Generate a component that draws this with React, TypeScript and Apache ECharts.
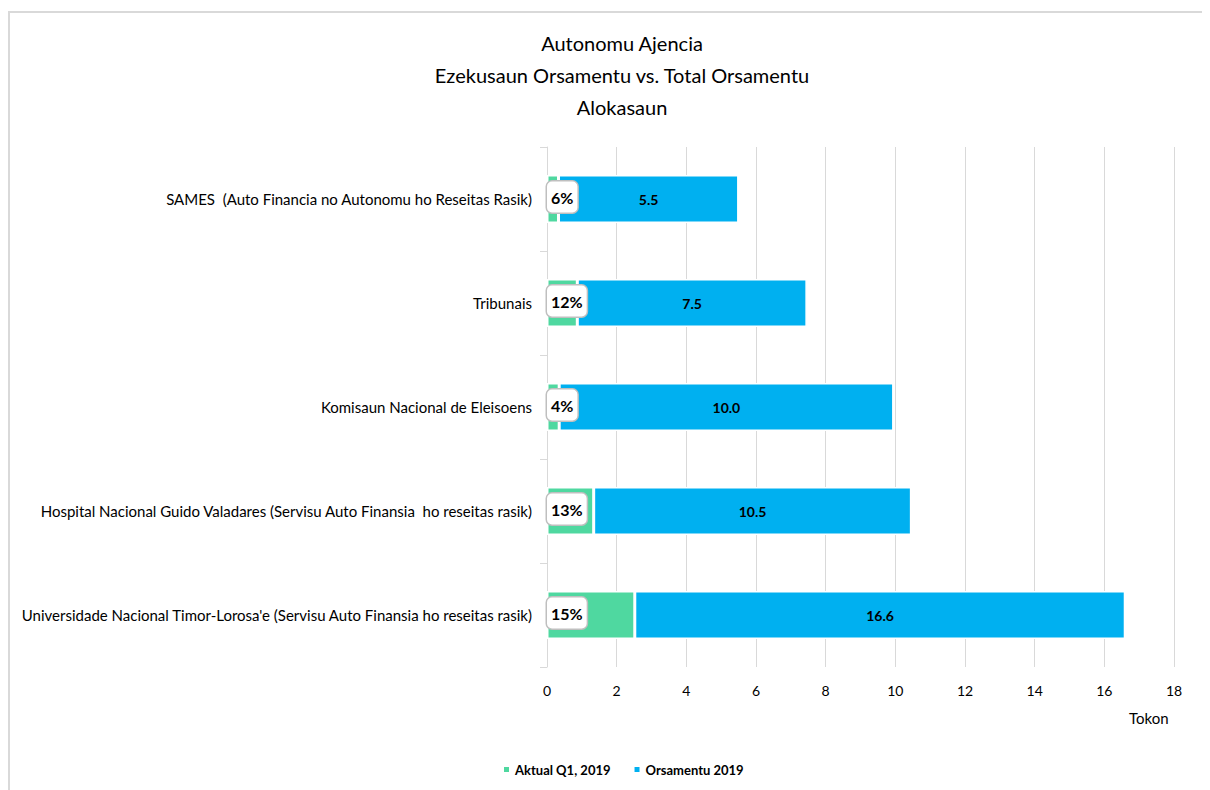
import React, { useEffect, useRef } from "react";
import * as echarts from "echarts";

const categories = [
  "SAMES  (Auto Financia no Autonomu ho Reseitas Rasik)",
  "Tribunais",
  "Komisaun Nacional de Eleisoens",
  "Hospital Nacional Guido Valadares (Servisu Auto Finansia  ho reseitas rasik)",
  "Universidade Nacional Timor-Lorosa'e (Servisu Auto Finansia ho reseitas rasik)",
];
const actualQ1 = [0.33, 0.87, 0.35, 1.34, 2.52];
const budget2019 = [5.5, 7.46, 9.95, 10.46, 16.6];
const budgetLabels = ["5.5", "7.5", "10.0", "10.5", "16.6"];
const executionPct = ["6%", "12%", "4%", "13%", "15%"];
const xTicks = { min: 0, max: 18, interval: 2 };

const FONT = "Lato, 'Open Sans', sans-serif";

export default function App() {
  const ref = useRef<HTMLDivElement>(null);
  useEffect(() => {
    if (!ref.current) return;
    const chart = echarts.init(ref.current, null, { renderer: "svg" });
    const remainder = budget2019.map((b, i) => +(b - actualQ1[i]).toFixed(3));
    chart.setOption({
      animation: false,
      textStyle: { fontFamily: FONT },
      title: {
        text: "Autonomu Ajencia\nEzekusaun Orsamentu vs. Total Orsamentu\nAlokasaun",
        left: 609,
        top: 14,
        textAlign: "center",
        textStyle: {
          fontFamily: FONT,
          fontSize: 20,
          fontWeight: "normal",
          lineHeight: 32,
          color: "#000",
        },
      },
      legend: {
        left: 489,
        top: 750,
        itemWidth: 7,
        itemHeight: 7,
        itemGap: 22,
        icon: "rect",
        textStyle: { fontFamily: FONT, fontSize: 13, fontWeight: "bold", color: "#000" },
        data: ["Aktual Q1, 2019", "Orsamentu 2019"],
      },
      grid: { left: 539, right: 36, top: 139, bottom: 123, containLabel: false },
      xAxis: {
        type: "value",
        min: xTicks.min,
        max: xTicks.max,
        interval: xTicks.interval,
        axisLine: { show: false },
        axisTick: { show: false },
        splitLine: { lineStyle: { color: "#d9d9d9", width: 1 } },
        axisLabel: { color: "#000", fontSize: 14, margin: 16, fontFamily: FONT },
      },
      yAxis: {
        type: "category",
        inverse: true,
        data: categories,
        axisLine: { show: true, lineStyle: { color: "#d9d9d9" } },
        axisTick: { show: true, length: 7, lineStyle: { color: "#d9d9d9" } },
        axisLabel: { color: "#000", fontSize: 15, margin: 15, fontFamily: FONT },
      },
      graphic: [
        { type: "line", shape: { x1: 1, y1: 3, x2: 1, y2: 782 }, style: { stroke: "#d9d9d9", lineWidth: 2 } },
        { type: "line", shape: { x1: 0, y1: 4, x2: 1202, y2: 4 }, style: { stroke: "#d9d9d9", lineWidth: 2 } },
        {
          type: "text",
          left: 1121,
          top: 702,
          style: { text: "Tokon", fontFamily: FONT, fontSize: 15, fill: "#000" },
        },
      ],
      series: [
        {
          name: "Aktual Q1, 2019",
          type: "bar",
          stack: "total",
          barWidth: 48,
          data: actualQ1,
          itemStyle: { color: "#4fd8a0", borderColor: "#fff", borderWidth: 1.5 },
          label: {
            show: true,
            position: "insideLeft",
            distance: 0,
            offset: [0, -2],
            formatter: (p: any) => executionPct[p.dataIndex],
            color: "#000",
            fontWeight: "bold",
            fontSize: 16,
            fontFamily: FONT,
            backgroundColor: "#fff",
            borderColor: "#bfbfbf",
            borderWidth: 1.5,
            borderRadius: 5,
            padding: [8, 4, 7, 4],
          },
        },
        {
          name: "Orsamentu 2019",
          type: "bar",
          stack: "total",
          barWidth: 48,
          data: remainder,
          itemStyle: { color: "#00b0f0", borderColor: "#fff", borderWidth: 1.5 },
          label: {
            show: true,
            position: "inside",
            formatter: (p: any) => budgetLabels[p.dataIndex],
            color: "#000",
            fontWeight: "bold",
            fontSize: 14,
            fontFamily: FONT,
          },
        },
      ],
    });
    return () => chart.dispose();
  }, []);
  return <div ref={ref} style={{ width: 1202, height: 782 }} />;
}
